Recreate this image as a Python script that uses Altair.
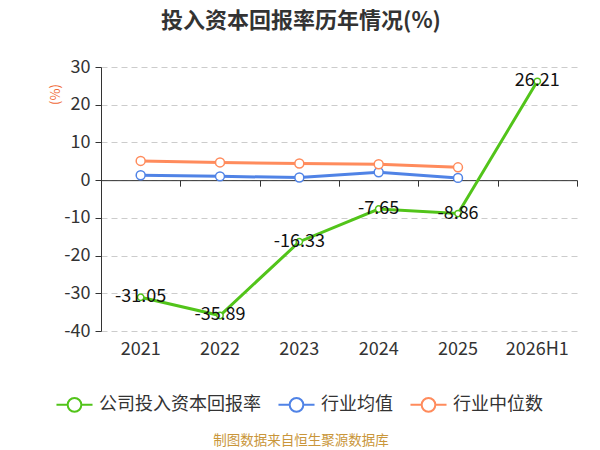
import altair as alt
import pandas as pd

years = ["2021", "2022", "2023", "2024", "2025", "2026H1"]
company = [-31.05, -35.89, -16.33, -7.65, -8.86, 26.21]
mean_vals = [1.3, 1.0, 0.7, 2.1, 0.6, None]
median_vals = [5.1, 4.7, 4.4, 4.2, 3.4, None]
series = ["公司投入资本回报率", "行业均值", "行业中位数"]
colors = ["#52c41a", "#5083e6", "#ff8b5c"]
y_ticks = [-40, -30, -20, -10, 0, 10, 20, 30]
title_text = "投入资本回报率历年情况(%)"
source_text = "制图数据来自恒生聚源数据库"

rows = []
for s, vals in zip(series, [company, mean_vals, median_vals]):
    for yr, v in zip(years, vals):
        if v is not None:
            rows.append({"year": yr, "series": s, "value": v, "label": f"{v:.2f}"})
df = pd.DataFrame(rows)
comp_df = df[df.series == series[0]]
ind_df = df[df.series != series[0]]
src_df = pd.DataFrame({"t": [source_text]})

FONT = "Noto Sans CJK SC"
W, H = 476, 264
ymin, ymax = -40, 30
zero_offset = -(H * (0 - ymin) / (ymax - ymin))

x_scale = alt.Scale(type="band", domain=years, paddingInner=0, paddingOuter=0)
y_scale = alt.Scale(domain=[ymin, ymax], nice=False, zero=False)
color_scale = alt.Scale(domain=series, range=colors)

y_axis = alt.Axis(
    values=y_ticks, grid=True, gridDash=[6, 4], gridColor="#cccccc", gridWidth=1,
    domain=True, domainColor="#333333", ticks=True, tickColor="#333333", tickSize=6,
    labelFont=FONT, labelFontSize=18, labelColor="#333333", labelPadding=5,
    labelExpr="replace(datum.label, '\u2212', '-')",
    title="(%)", titleColor="#f06a36", titleFont=FONT, titleFontSize=13,
    titleFontWeight="normal", titleAngle=270, titleX=-46, titleY=27,
    titleAlign="center", titleBaseline="middle",
)
label_axis = alt.Axis(
    domain=False, ticks=False, grid=False, labelAngle=0, labelPadding=9,
    labelFont=FONT, labelFontSize=18, labelColor="#333333", title=None,
)
zero_axis = alt.Axis(
    orient="bottom", offset=zero_offset, labels=False, ticks=True, tickSize=6,
    tickColor="#333333", tickWidth=1, domain=True, domainColor="#333333",
    domainWidth=1, tickBand="extent", grid=False, title=None,
)

legend = alt.Legend(
    orient="none", legendX=-46, legendY=318, direction="horizontal", title=None,
    symbolType="M-1,0H-0.38M0.38,0H1M0.38,0A0.38,0.38,0,1,1,-0.38,0A0.38,0.38,0,1,1,0.38,0",
    symbolSize=1300, symbolStrokeWidth=2, symbolFillColor="white",
    labelFont=FONT, labelFontSize=18, labelColor="#333333", labelOffset=5,
    labelLimit=400, columnPadding=13,
)

X = lambda axis: alt.X("year:N", scale=x_scale, sort=years, axis=axis)
Y = alt.Y("value:Q", scale=y_scale, axis=y_axis)
C = alt.Color("series:N", scale=color_scale, legend=None)

lines = alt.Chart(df).mark_line(strokeWidth=3).encode(
    x=X(label_axis), y=Y,
    color=alt.Color("series:N", scale=color_scale, legend=legend, sort=series),
)

ind_points = alt.Chart(ind_df).mark_point(
    shape="circle", filled=False, fill="white", fillOpacity=1, opacity=1,
    strokeWidth=1.5, size=80,
).encode(x=X(None), y=Y, color=C)

comp_points = alt.Chart(comp_df).mark_point(
    shape="circle", filled=False, fill="white", fillOpacity=1, opacity=1,
    strokeWidth=1.5, size=40,
).encode(x=X(None), y=Y, color=C)

labels = alt.Chart(comp_df).mark_text(
    font=FONT, fontSize=18, color="#111111", align="center", baseline="middle"
).encode(
    x=X(None), y=Y, text="label:N",
)

zero = alt.Chart(comp_df).mark_point(opacity=0).encode(
    x=X(zero_axis), y=Y,
)

source = alt.Chart(src_df).mark_text(
    font=FONT, fontSize=13.5, color="#c9963a", align="center", baseline="middle"
).encode(
    text="t:N", x=alt.value(200), y=alt.value(374),
)

chart = alt.layer(lines, zero, ind_points, comp_points, labels, source).resolve_axis(
    x="independent"
).properties(
    width=W, height=H,
    autosize=alt.AutoSizeParams(type="none"),
    padding={"left": 93, "top": 59, "right": 15, "bottom": 118},
    title=alt.TitleParams(
        title_text, font=FONT, fontSize=22, fontWeight="bold", color="#333333",
        anchor="middle", frame="group", dx=-38, offset=25,
    ),
).configure_view(stroke=None)

chart.save("out.html", embed_options={"renderer": "svg", "actions": False})
